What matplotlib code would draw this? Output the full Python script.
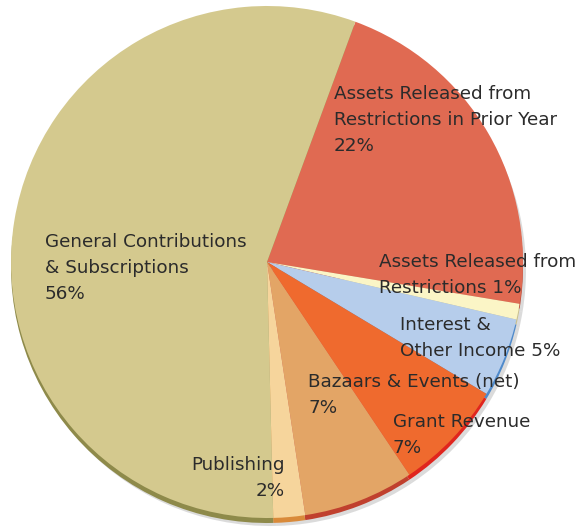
import matplotlib.pyplot as plt

# revenue breakdown, clockwise from the top
labels = [["Assets Released from", "Restrictions in Prior Year", "22%"],
          ["Assets Released from", "Restrictions 1%"],
          ["Interest &", "Other Income 5%"],
          ["Grant Revenue", "7%"],
          ["Bazaars & Events (net)", "7%"],
          ["Publishing", "2%"],
          ["General Contributions", "& Subscriptions", "56%"]]
shares = [22, 1, 5, 7, 7, 2, 56]
colors = ["#E06A52", "#FBF5C6", "#B6CDEB", "#EF6A2E", "#E3A566", "#F6D59C", "#D4C98E"]
rim_colors = ["#B84A38", "#C9C08E", "#4F8ACB", "#E0251E", "#C0402E", "#D98A3A", "#8E8A4A"]

# first-line baseline in pixels (x, y from top), alignment
label_pos = [(334, 99, "left"), (379, 267, "left"), (400, 330, "left"),
             (393, 427, "left"), (308, 387, "left"), (285, 470, "right"),
             (45, 247, "left")]

W, H = 587, 528
fig = plt.figure(figsize=(W / 100, H / 100), dpi=100)
ax = fig.add_axes([0, 0, 1, 1])

cx, cy, r = 267, H - 262, 256
start = 69.8

# soft shadow and darker rim to give the slight 3D edge
ax.pie(shares, colors=["#9a9a9a"] * len(shares), radius=r, center=(cx + 3, cy - 8),
       startangle=start, counterclock=False, frame=True,
       wedgeprops=dict(linewidth=0, alpha=0.35))
ax.pie(shares, colors=rim_colors, radius=r, center=(cx, cy - 5),
       startangle=start, counterclock=False, frame=True,
       wedgeprops=dict(linewidth=0))
ax.pie(shares, colors=colors, radius=r, center=(cx, cy),
       startangle=start, counterclock=False, frame=True,
       wedgeprops=dict(linewidth=0))
ax.set_xlim(0, W)
ax.set_ylim(0, H)
ax.set_aspect("equal")
ax.axis("off")

for lines, (x, y, ha) in zip(labels, label_pos):
    for i, line in enumerate(lines):
        ax.text(x, H - (y + 26 * i), line, ha=ha, va="baseline", fontsize=13.2,
                color="#2b2b2b", family="DejaVu Sans")

fig.savefig("out.png", dpi=100)
